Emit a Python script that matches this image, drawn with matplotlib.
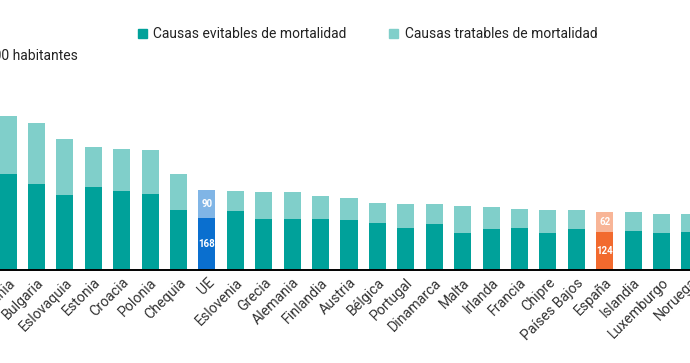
import matplotlib.pyplot as plt
from matplotlib.patches import Patch

plt.rcParams['font.family'] = ['Roboto', 'DejaVu Sans']

paises = ['Rumania', 'Bulgaria', 'Eslovaquia', 'Estonia', 'Croacia', 'Polonia',
          'Chequia', 'UE', 'Eslovenia', 'Grecia', 'Alemania', 'Finlandia',
          'Austria', 'Bélgica', 'Portugal', 'Dinamarca', 'Malta', 'Irlanda',
          'Francia', 'Chipre', 'Países Bajos', 'España', 'Islandia',
          'Luxemburgo', 'Noruega']
evitables = [310, 277, 242, 268, 255, 245, 194, 168, 190, 165, 165, 165,
             161, 152, 135, 148, 119, 132, 135, 119, 132, 124, 126, 119, 123]
tratables = [187, 197, 181, 129, 135, 142, 116, 90, 65, 87, 87, 74,
             71, 64, 78, 65, 87, 71, 62, 75, 62, 62, 61, 62, 58]

TEAL, TEAL_L = '#00A19A', '#80CFCA'
BLUE, BLUE_L = '#0A6FCF', '#80B5E6'
ORANGE, ORANGE_L = '#F26A2E', '#F8B597'

col_dark = []
col_light = []
for p in paises:
    if p == 'UE':
        col_dark.append(BLUE); col_light.append(BLUE_L)
    elif p == 'España':
        col_dark.append(ORANGE); col_light.append(ORANGE_L)
    else:
        col_dark.append(TEAL); col_light.append(TEAL_L)

W, H = 690, 363
fig = plt.figure(figsize=(W / 100, H / 100), dpi=100, facecolor='white')
# axes: baseline at y=270px, spans whole width (chart is cropped on both sides)
ax = fig.add_axes([0, 93 / H, 1, 270 / H])

x = list(range(len(paises)))
ax.bar(x, evitables, width=0.6, color=col_dark, zorder=2)
ax.bar(x, tratables, width=0.6, bottom=evitables, color=col_light, zorder=2)

ax.set_xlim(-8 / 28.5, (W - 8) / 28.5)
ax.set_ylim(0, 270 / 0.31)

# values inside UE and España bars
for i, p in enumerate(paises):
    if p in ('UE', 'España'):
        ax.text(i, evitables[i] / 2, str(evitables[i]), ha='center', va='center',
                color='white', fontsize=7, fontweight='bold')
        ax.text(i, evitables[i] + tratables[i] / 2, str(tratables[i]),
                ha='center', va='center', color='white', fontsize=7,
                fontweight='bold')

ax.set_xticks(x)
ax.set_xticklabels(paises, rotation=45, ha='right', va='top',
                   rotation_mode='anchor', fontsize=10.2, color='#333333')
ax.tick_params(axis='x', length=0, pad=4)
ax.set_yticks([])
for s in ['left', 'right', 'top']:
    ax.spines[s].set_visible(False)
ax.spines['bottom'].set_linewidth(1.4)
ax.spines['bottom'].set_color('black')
ax.spines['bottom'].set_zorder(3)

fig.text(78 / W, 1 - 56 / H, 'Tasa por 100.000 habitantes', ha='right',
         va='center', fontsize=10, color='#222222')

handles = [Patch(color=TEAL, label='Causas evitables de mortalidad'),
           Patch(color=TEAL_L, label='Causas tratables de mortalidad')]
fig.legend(handles=handles, loc='center', bbox_to_anchor=(367.5 / W, 1 - 34.5 / H),
           ncol=2, frameon=False, fontsize=10, handlelength=0.65,
           handleheight=0.65, handletextpad=0.45, columnspacing=3.1,
           labelcolor='#222222')

plt.savefig('out.png', dpi=100, facecolor='white')
plt.close()
